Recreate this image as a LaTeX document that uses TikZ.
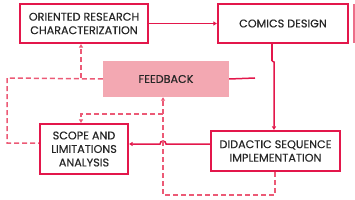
\documentclass[tikz,border=0pt]{standalone}
\usepackage{fontspec}
\setmainfont{Poppins}[FakeBold=0.3]
\usetikzlibrary{arrows.meta}

\definecolor{crimson}{HTML}{E3174B}
\definecolor{dashpink}{HTML}{EC5A76}
\definecolor{fbfill}{HTML}{F3A8B2}
\definecolor{txtgray}{HTML}{262626}

\tikzset{
  stagebox/.style={draw=crimson, line width=2.2pt, fill=white, text=txtgray,
    align=center, inner sep=0pt, font=\fontsize{11.2}{13.5}\selectfont},
  flow/.style={draw=crimson, line width=1.5pt, -{Triangle[length=3.5pt,width=4pt]}},
  backflow/.style={draw=dashpink, line width=1.5pt, dash pattern=on 5pt off 3pt,
    -{Triangle[length=3.5pt,width=4pt]}}
}

\begin{document}
\begin{tikzpicture}[x=1pt, y=-1pt]
  \useasboundingbox (0,0) rectangle (355,200);
  % --- the stages ---
  \node[stagebox, minimum width=128pt, minimum height=39pt] (orc) at (84,23.5)
    {ORIENTED RESEARCH\\CHARACTERIZATION};
  \node[stagebox, minimum width=130pt, minimum height=39pt] (comics) at (283,23.5)
    {COMICS DESIGN};
  \node[fill=fbfill, text=txtgray, inner sep=0pt, minimum width=126pt,
    minimum height=36pt, font=\fontsize{11.2}{13.5}\selectfont] (feedback) at (166,79)
    {FEEDBACK};
  \node[stagebox, minimum width=88pt, minimum height=50pt] (scope) at (84,149)
    {SCOPE AND\\LIMITATIONS\\ANALYSIS};
  \node[stagebox, minimum width=129pt, minimum height=40pt] (didactic) at (275.5,151)
    {DIDACTIC SEQUENCE\\IMPLEMENTATION};
  % cut-off edge on the right
  \draw[fbfill!60!crimson, line width=1.6pt] (354.2,4) -- (354.2,43);
  % --- forward flow ---
  \coordinate (fbend) at (255,78);
  \draw[flow] (orc.east) -- (comics.west);
  \draw[draw=crimson, line width=1.5pt] (feedback.east) -- (fbend);
  \draw[draw=crimson, line width=2.5pt] (272,43) -- (272,61);
  \draw[flow] (272,61) -- (274,62) -- (didactic.north -| 274,0);
  \draw[flow] (didactic.west |- 0,144) -- (166,144) arc (0:-180:3)
    -- (scope.east |- 0,144);
  % --- feedback loops ---
  \coordinate (low) at (163,195);
  \coordinate (split) at (163,114);
  \draw[backflow] (didactic.south -| 275,0) -- (275,195) -- (low)
    -- (feedback.south -| low);
  \draw[backflow] (split) -- (81,114) -- (scope.north -| 81,0);
  \draw[backflow, -] (feedback.west) -- (7,78) -- (7,143) -- (scope.west |- 0,143);
  \draw[backflow] (81,78) -- (orc.south -| 81,0);
\end{tikzpicture}
\end{document}
